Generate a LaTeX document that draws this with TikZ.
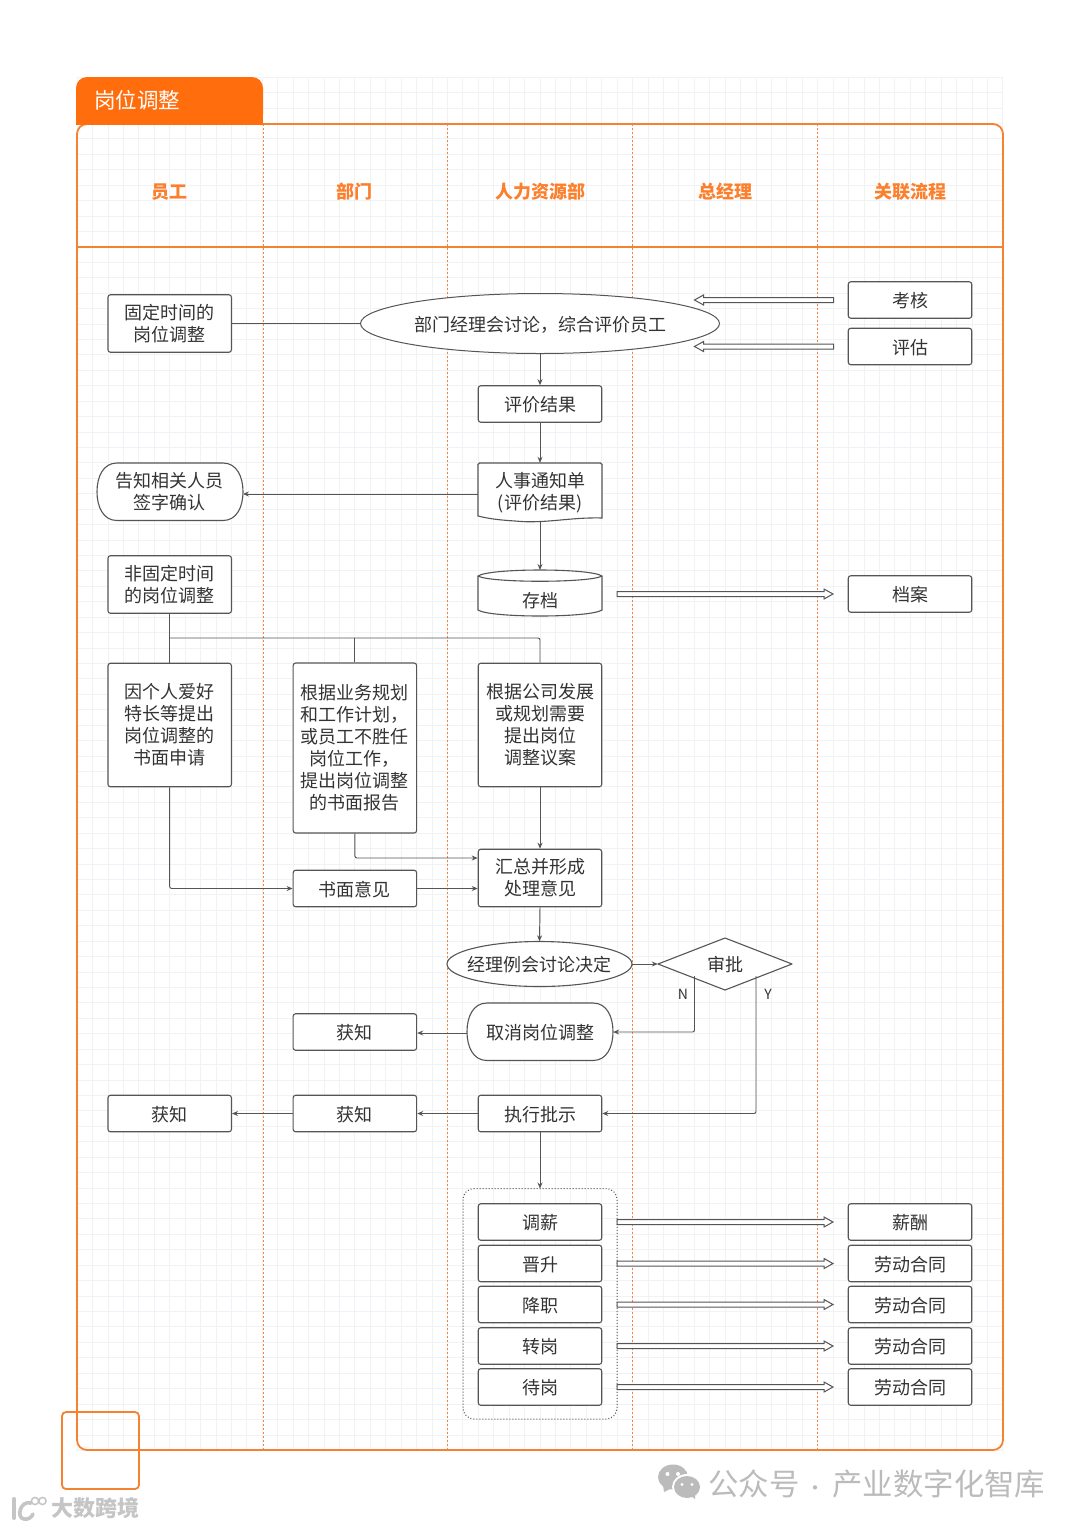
\documentclass[tikz,border=0pt]{standalone}
\usepackage{fontspec}
\setmainfont{Noto Sans CJK SC}
\usetikzlibrary{shapes.geometric,arrows.meta,calc}
\definecolor{brand}{HTML}{FF6D0C}
\definecolor{framec}{HTML}{F58231}
\definecolor{lanec}{HTML}{F8843C}
\definecolor{headc}{HTML}{FB7F2C}
\definecolor{ink}{HTML}{333333}
\definecolor{edgec}{HTML}{555555}
\definecolor{gridc}{HTML}{F0F2F5}
\definecolor{wm}{HTML}{BBBBBB}
\tikzset{
  base/.style={font=\fontsize{18pt}{22pt}\selectfont,text=ink,align=center,inner sep=0pt,execute at begin node={\rule{0pt}{17pt}}},
  boxn/.style={base,draw=edgec,line width=1.1pt,rounded corners=2.5pt,fill=white,minimum width=123.5pt},
  plainn/.style={base,minimum width=#1},
  ell/.style={base,ellipse,draw=edgec,line width=1pt,fill=white},
  conn/.style={draw=edgec,line width=.95pt,rounded corners=2pt},
  arr/.style={conn,-{Stealth[length=6pt,width=5pt]}},
  hollow/.style={draw=edgec,line width=1pt,fill=white,line join=miter},
  head/.style={font=\fontsize{18pt}{22pt}\selectfont\bfseries,text=headc,inner sep=0pt},
  shapeline/.style={draw=edgec,line width=1.1pt,fill=white},
}
\newcommand\hollowarrow[3]{%
  \draw[hollow] ($(#1)+(0,-2.5)$) -- ($(#2)+({-#3*9},-2.5)$) -- ($(#2)+({-#3*9},-5)$) -- (#2)
    -- ($(#2)+({-#3*9},5)$) -- ($(#2)+({-#3*9},2.5)$) -- ($(#1)+(0,2.5)$) -- cycle;}
\newcommand\termshape[4]{%
  \draw[shapeline] ({#1+20},#2) -- ({#3-20},#2)
    .. controls ({#3-6},#2) and (#3,{#2+14}) .. (#3,{(#2+#4)/2})
    .. controls (#3,{#4-14}) and ({#3-6},#4) .. ({#3-20},#4)
    -- ({#1+20},#4)
    .. controls ({#1+6},#4) and (#1,{#4-14}) .. (#1,{(#2+#4)/2})
    .. controls (#1,{#2+14}) and ({#1+6},#2) .. ({#1+20},#2) -- cycle;}
\begin{document}
\begin{tikzpicture}[x=1pt,y=-1pt]
\useasboundingbox (0,0) rectangle (1080,1527);
\fill[white] (0,0) rectangle (1080,1527);
% grid
\foreach \i in {0,...,60} {\draw[gridc,line width=.7pt] ({77+15.43*\i},77) -- ({77+15.43*\i},1450);}
\foreach \i in {0,...,89} {\draw[gridc,line width=.7pt] (77,{77+15.43*\i}) -- (1003,{77+15.43*\i});}
% lanes
\foreach \x in {263,447.5,632.5,817.5} {\draw[lanec,line width=1pt,dash pattern=on 2.4pt off 1.6pt] (\x,124) -- (\x,1450);}
% frame
\draw[framec,line width=1.8pt,rounded corners=10pt] (77,124) -- (1003,124) -- (1003,1450) -- (77,1450) -- cycle;
\draw[framec,line width=1.8pt] (77,247) -- (1003,247);
\fill[brand,rounded corners=11pt] (76,124.8) -- (76,77) -- (263,77) -- (263,124.8) [sharp corners] -- cycle;
\fill[brand] (76,105) rectangle (263,124.8);
\node[font=\fontsize{21.5pt}{24pt}\selectfont,text=white,inner sep=0pt,anchor=west] (title) at (94,100) {岗位调整};
\node[head] (h1) at (169.8,192) {员工};
\node[head] (h2) at (354.9,192) {部门};
\node[head] (h3) at (540,192) {人力资源部};
\node[head] (h4) at (725,192) {总经理};
\node[head] (h5) at (910,192) {关联流程};
% group
\draw[edgec,line width=1pt,dotted,rounded corners=11pt] (463,1188.5) rectangle (617,1419);
\coordinate (grouptop) at (540,1188.5);
% row 1
\node[boxn,minimum height=57.5pt] (gd) at (169.7,323.5) {固定时间的\\岗位调整};
\node[ell,minimum width=359pt,minimum height=60pt] (eval) at (540,323.5) {部门经理会讨论，综合评价员工};
\node[boxn,minimum height=36.5pt] (kh) at (910,300) {考核};
\node[boxn,minimum height=36.5pt] (pg) at (910,346.5) {评估};
\node[boxn,minimum height=36.5pt] (jg) at (540,404) {评价结果};
% terminator
\termshape{97}{463}{243}{520.5}
\node[plainn=146pt,minimum height=57.5pt] (gz) at (169.7,491.5) {告知相关人员\\签字确认};
% document
\draw[shapeline] (478,516) [rounded corners=1.5pt] -- (478,463) -- (602,463) [sharp corners] -- (602,518)
  .. controls (570,517) and (545,524) .. (515,521) .. controls (500,520) and (490,519) .. (478,516) -- cycle;
\node[plainn=124pt,minimum height=59pt] (rs) at (540,492.5) {人事通知单\\(评价结果)};
% cylinder
\draw[shapeline] (478,576) .. controls (490,568) and (590,568) .. (602,576) -- (602,610) .. controls (590,618) and (490,618) .. (478,610) -- cycle;
\draw[edgec,line width=1.1pt] (478,576) .. controls (490,583) and (590,583) .. (602,576);
\node[plainn=124pt,minimum height=30pt] (cd) at (540,600) {存档};
\coordinate (cdtop) at (540,570);
\node[boxn,minimum height=36.5pt] (da) at (910,594) {档案};
\node[boxn,minimum height=57.5pt] (fgd) at (169.7,584.5) {非固定时间\\的岗位调整};
\node[boxn,minimum height=123.5pt] (a1) at (169.7,725) {因个人爱好\\特长等提出\\岗位调整的\\书面申请};
\node[boxn,minimum height=170pt] (a2) at (354.9,748) {根据业务规划\\和工作计划，\\或员工不胜任\\岗位工作，\\提出岗位调整\\的书面报告};
\node[boxn,minimum height=123.5pt] (a3) at (540,725) {根据公司发展\\或规划需要\\提出岗位\\调整议案};
\node[boxn,minimum height=36.5pt] (sm) at (354.9,888.5) {书面意见};
\node[boxn,minimum height=57.5pt] (hz) at (540,878) {汇总并形成\\处理意见};
% meeting ellipse
\draw[shapeline] (539.5,964) ellipse (92.5pt and 22.5pt);
\node[plainn=185pt,minimum height=45pt] (lh) at (539.5,964) {经理例会讨论决定};
% diamond
\draw[shapeline,line join=round] (658,964) -- (725,938) -- (792,964) -- (725,990) -- cycle;
\node[plainn=134pt,minimum height=52pt] (sp) at (725,964) {审批};
\coordinate (spn) at (694.5,976);
\coordinate (spy) at (756,976);
\node[font=\fontsize{14pt}{16pt}\selectfont,text=ink,inner sep=0pt] (nl) at (683,994) {N};
\node[font=\fontsize{14pt}{16pt}\selectfont,text=ink,inner sep=0pt] (yl) at (768,994) {Y};
\termshape{467}{1003}{613}{1060.5}
\node[plainn=146pt,minimum height=57.5pt] (qx) at (540,1032) {取消岗位调整};
\node[boxn,minimum height=36.5pt] (hz1) at (354.9,1032) {获知};
\node[boxn,minimum height=36.5pt] (zx) at (540,1113.5) {执行批示};
\node[boxn,minimum height=36.5pt] (hz2) at (354.9,1113.5) {获知};
\node[boxn,minimum height=36.5pt] (hz3) at (169.7,1113.5) {获知};
% items
\node[boxn,minimum height=36.5pt] (i1) at (540,1222) {调薪};
\node[boxn,minimum height=36.5pt] (i2) at (540,1263.5) {晋升};
\node[boxn,minimum height=36.5pt] (i3) at (540,1304.5) {降职};
\node[boxn,minimum height=36.5pt] (i4) at (540,1346) {转岗};
\node[boxn,minimum height=36.5pt] (i5) at (540,1387) {待岗};
\node[boxn,minimum height=36.5pt] (r1) at (910,1222) {薪酬};
\node[boxn,minimum height=36.5pt] (r2) at (910,1263.5) {劳动合同};
\node[boxn,minimum height=36.5pt] (r3) at (910,1304.5) {劳动合同};
\node[boxn,minimum height=36.5pt] (r4) at (910,1346) {劳动合同};
\node[boxn,minimum height=36.5pt] (r5) at (910,1387) {劳动合同};
% connectors
\draw[conn] (gd.east) -- (eval.west);
\draw[arr] (eval.south) -- (jg.north);
\draw[arr] (jg.south) -- (rs.north);
\draw[arr] ($(rs.west)+(0,1.5)$) -- ($(gz.east)+(0,2.5)$);
\draw[arr] (rs.south) -- (cdtop);
\draw[conn] (fgd.south) -- (a1.north);
\coordinate (bus) at (169.7,638);
\draw[conn] (bus) -| (a3.north);
\draw[conn] (a2.north) -- (a2.north |- bus);
\draw[arr] (a1.south) |- (sm.west);
\draw[arr] (a2.south) |- ($(hz.west)+(0,-20)$);
\draw[arr] (sm.east) -- (sm.east -| hz.west);
\draw[arr] (a3.south) -- (hz.north);
\draw[arr] (hz.south) -- (lh.north);
\draw[arr] (lh.east) -- (sp.west);
\draw[arr] (spn) |- (qx.east);
\draw[arr] (spy) |- (zx.east);
\draw[arr] ($(qx.west)+(0,1)$) -- ($(hz1.east)+(0,1)$);
\draw[arr] (zx.west) -- (hz2.east);
\draw[arr] (hz2.west) -- (hz3.east);
\draw[arr] (zx.south) -- (grouptop);
% hollow arrows
\coordinate (ka) at (833.5,300); \coordinate (kb) at (694.5,300);
\coordinate (pa) at (833.5,346.5); \coordinate (pb) at (694.5,346.5);
\hollowarrow{ka}{kb}{-1}
\hollowarrow{pa}{pb}{-1}
\coordinate (ca) at (617,594); \coordinate (cb) at (833,594);
\hollowarrow{ca}{cb}{1}
\foreach \n/\y in {1/1222,2/1263.5,3/1304.5,4/1346,5/1387} {
  \coordinate (la\n) at (617,\y); \coordinate (lb\n) at (833,\y);
  \hollowarrow{la\n}{lb\n}{1}
}
% watermark square
\draw[framec,line width=1.8pt,rounded corners=4pt] (62,1412) rectangle (139,1489);
% watermark left
\node[font=\fontsize{22pt}{24pt}\selectfont\bfseries,text=wm!85,inner sep=0pt,anchor=west] (wm1) at (51,1508) {大数跨境};
\draw[wm!85,line width=4pt,line cap=round] (14,1499) -- (14,1518);
\draw[wm!85,line width=3.6pt,line cap=round] (31,1503) .. controls (20,1500) and (16,1518) .. (24,1519) .. controls (28,1520) and (32,1517) .. (33,1514);
\draw[wm!85,line width=1.5pt] (35,1501) circle (3.6pt);
\draw[wm!85,line width=1.5pt] (42.5,1501) circle (3.6pt);
% watermark right
\fill[wm] (673,1477) ellipse (15pt and 12.5pt);
\fill[wm] (663,1485) -- (664,1492) -- (672,1488) -- cycle;
\fill[white] (687,1487) ellipse (15pt and 13pt);
\fill[wm] (687,1487) ellipse (13pt and 11pt);
\fill[wm] (691,1496) -- (695,1499) -- (695,1493) -- cycle;
\fill[white] (667.5,1474) circle (2pt) (678,1474) circle (2pt) (682,1484.5) circle (1.6pt) (692,1484.5) circle (1.6pt);
\node[font=\fontsize{30.4pt}{32pt}\selectfont,text=wm,inner sep=0pt,anchor=west] (wm2) at (708,1484) {公众号\hbox to 33pt{\hss{\fontsize{20pt}{20pt}\selectfont ·}\hss}产业数字化智库};
\end{tikzpicture}
\end{document}
